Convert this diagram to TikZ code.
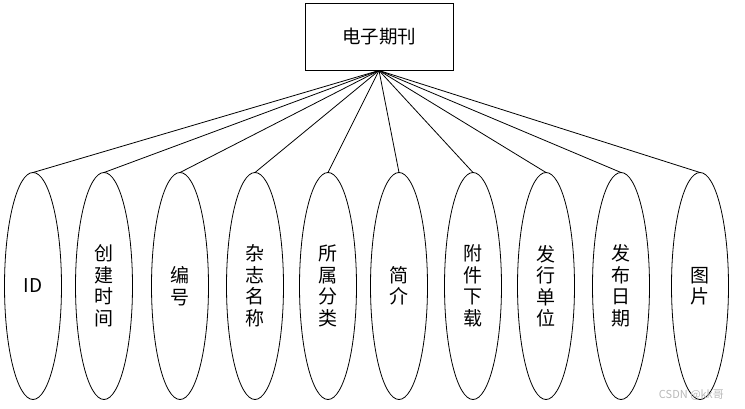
\documentclass[tikz,border=0pt]{standalone}
\usepackage{fontspec}
\setmainfont{Noto Sans CJK SC}
\usetikzlibrary{shapes.geometric}
\usetikzlibrary{positioning}

\begin{document}
\begin{tikzpicture}[x=1pt,y=-1pt]
\tikzstyle{entity}=[draw,line width=0.8pt,outer sep=0pt,minimum width=148pt,minimum height=67pt,inner sep=0pt,font=\fontsize{18.5}{22}\selectfont]
\tikzstyle{attr}=[draw,ellipse,line width=0.8pt,outer sep=0pt,minimum width=57pt,minimum height=227pt,inner sep=0pt,align=center,font=\fontsize{19}{21.5}\selectfont]
\tikzstyle{link}=[line width=0.8pt]

\useasboundingbox (0,0) rectangle (745,408);

\node (Journal) [entity] at (379,37) {电子期刊};

\node (A1) [attr] at (33,286) {ID};
\node (A2) [attr,xshift=71pt] at (A1) {创\\建\\时\\间};
\node (A3) [attr,xshift=76pt] at (A2) {编\\号};
\node (A4) [attr,xshift=75pt] at (A3) {杂\\志\\名\\称};
\node (A5) [attr,xshift=73pt] at (A4) {所\\属\\分\\类};
\node (A6) [attr,xshift=71pt] at (A5) {简\\介};
\node (A7) [attr,xshift=74pt] at (A6) {附\\件\\下\\载};
\node (A8) [attr,xshift=73pt] at (A7) {发\\行\\单\\位};
\node (A9) [attr,xshift=75pt] at (A8) {发\\布\\日\\期};
\node (A10) [attr,xshift=79pt] at (A9) {图\\片};

\draw [link] (Journal.south) -- (A1.north);
\draw [link] (Journal.south) -- (A2.north);
\draw [link] (Journal.south) -- (A3.north);
\draw [link] (Journal.south) -- (A4.north);
\draw [link] (Journal.south) -- (A5.north);
\draw [link] (Journal.south) -- (A6.north);
\draw [link] (Journal.south) -- (A7.north);
\draw [link] (Journal.south) -- (A8.north);
\draw [link] (Journal.south) -- (A9.north);
\draw [link] (Journal.south) -- (A10.north);

% watermark
\node (mark) [anchor=east,text=gray!55,inner sep=0pt,font=\fontsize{11}{11}\selectfont] at (724,395) {CSDN @kk哥};

\end{tikzpicture}
\end{document}
